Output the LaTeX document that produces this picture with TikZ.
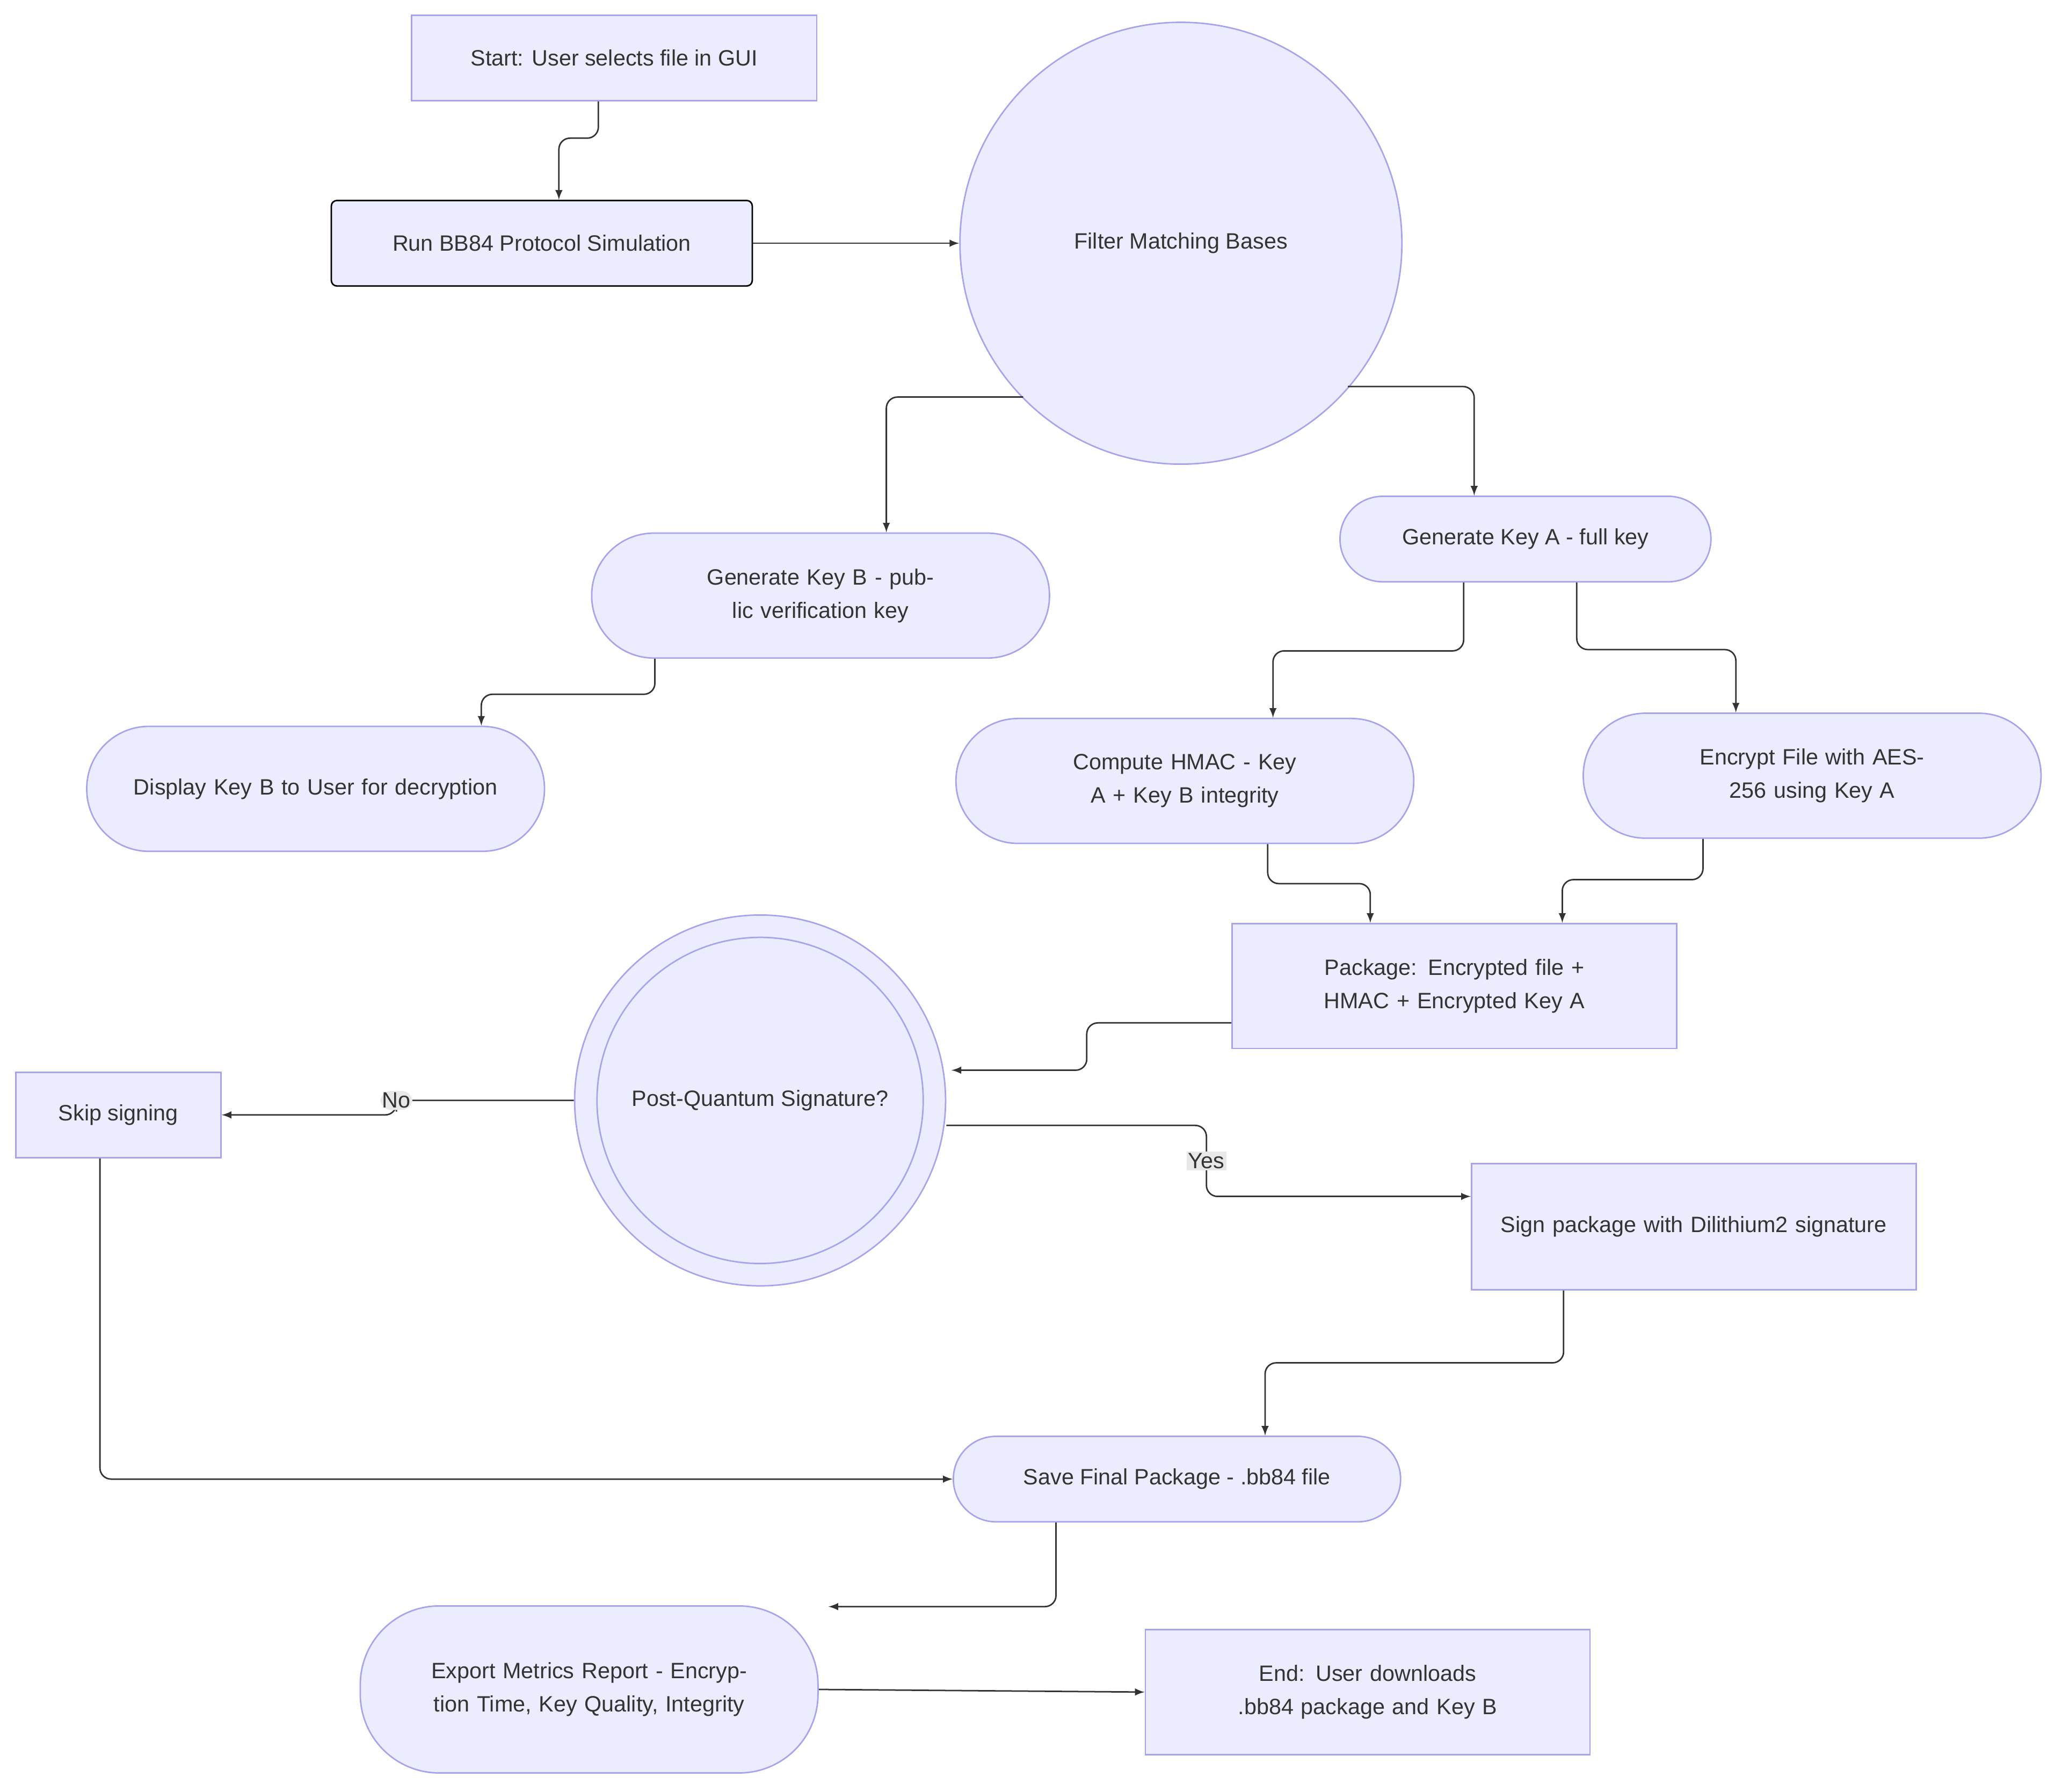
\documentclass[tikz,border=0pt]{standalone}
\usepackage{fontspec}
\setmainfont{Liberation Sans}
\usetikzlibrary{positioning}
\definecolor{boxfill}{HTML}{ECECFF}
\definecolor{boxline}{HTML}{A9A3EE}
\definecolor{edgecol}{HTML}{333333}
\definecolor{labfill}{HTML}{E8E8E8}
\begin{document}
\begin{tikzpicture}[x=0.025cm, y=-0.025cm,
    font=\fontsize{12}{18}\selectfont, text=edgecol,
    box/.style = {draw=boxline, fill=boxfill, line width=0.8pt, align=center, inner sep=0pt},
    rect/.style = {box, minimum width=#1, minimum height=1.625cm},
    pill/.style = {box, rounded corners=1.18cm, minimum width=8.7cm, minimum height=2.375cm, text width=7cm},
    line/.style = {draw=edgecol, line width=0.8pt, rounded corners=6pt, -latex},
    lab/.style = {fill=labfill, inner sep=1pt}]
    \useasboundingbox (0,0) rectangle (1568,1363);
    % nodes:
    \node[rect=7.7cm] (start) at (467,44) {Start: User selects file in GUI};
    \node[rect=8cm, draw=black, fill=boxfill, rounded corners=3pt] (bb84) at (412,185) {Run BB84 Protocol Simulation};
    \node[box, circle, minimum size=8.4cm] (filter) at (898,185) {Filter Matching Bases};
    \node[pill] (keyB) at (624,453) {Generate Key B - public verification key};
    \node[box, rounded corners=0.81cm, minimum width=7.05cm, minimum height=1.625cm] (keyA) at (1160,410) {Generate Key A - full key};
    \node[pill] (display) at (240,600) {Display Key B to User for decryption};
    \node[pill] (hmac) at (901,594) {Compute HMAC - Key A + Key B integrity};
    \node[pill] (encrypt) at (1378,590) {Encrypt File with AES-256 using Key A};
    \node[rect=8.45cm, minimum height=2.375cm, text width=7.5cm] (package) at (1106,750) {Package: Encrypted file + HMAC + Encrypted Key A};
    \node[box, circle, minimum size=7.05cm] (pq) at (578,837) {Post-Quantum Signature?};
    \draw[boxline, line width=0.8pt] (pq.center) circle[radius=3.1cm];
    \node[rect=3.9cm] (skip) at (90,848) {Skip signing};
    \node[rect=8.45cm, minimum height=2.4cm, text width=7.5cm] (sign) at (1288,933) {Sign package with Dilithium2 signature};
    \node[box, rounded corners=0.81cm, minimum width=8.5cm, minimum height=1.625cm] (save) at (895,1125) {Save Final Package - .bb84 file};
    \node[pill, minimum height=3.175cm, rounded corners=1.5cm] (export) at (448,1285) {Export Metrics Report - Encryption Time, Key Quality, Integrity};
    \node[rect=8.45cm, minimum height=2.375cm, text width=7.5cm] (end) at (1040,1287) {End: User downloads .bb84 package and Key B};
    % lines:
    \draw[line] ([shift={(-12,0)}]start.south) -- ++(0,28) -| ([shift={(13,0)}]bb84.north);
    \draw[line] (bb84) -- (filter);
    \draw[line] ([shift={(-120,117)}]filter.center) -| ([shift={(50,0)}]keyB.north);
    \draw[line] ([shift={(127,109)}]filter.center) -| ([shift={(-39,0)}]keyA.north);
    \draw[line] ([shift={(-126,0)}]keyB.south) -- ++(0,27) -| ([shift={(126,0)}]display.north);
    \draw[line] ([shift={(-47,0)}]keyA.south) -- ++(0,52) -| ([shift={(67,0)}]hmac.north);
    \draw[line] ([shift={(39,0)}]keyA.south) -- ++(0,51) -| ([shift={(-58,0)}]encrypt.north);
    \draw[line] ([shift={(63,0)}]hmac.south) -- ++(0,30) -| ([shift={(-64,0)}]package.north);
    \draw[line] ([shift={(-83,0)}]encrypt.south) -- ++(0,31) -| ([shift={(82,0)}]package.north);
    \draw[line] ([shift={(0,28)}]package.west) -- ++(-110,0) |- ([shift={(4,-23)}]pq.east);
    \draw[line] (pq.west) -- ++(-135,0) node[lab] {No} |- (skip.east);
    \draw[line] ([shift={(0,19)}]pq.east) -| ([shift={(-201,-23)}]sign.west) -- ([shift={(0,-23)}]sign.west);
    \node[lab] at ([shift={(-201,-50)}]sign.west) {Yes};
    \draw[line] ([shift={(-99,0)}]sign.south) -- ++(0,55) -| ([shift={(67,0)}]save.north);
    \draw[line] ([shift={(-14,0)}]skip.south) |- (save.west);
    \draw[line] ([shift={(-92,0)}]save.south) |- ([shift={(182,-63)}]export.center);
    \draw[line] (export.east) -- (end.west);
\end{tikzpicture}
\end{document}
